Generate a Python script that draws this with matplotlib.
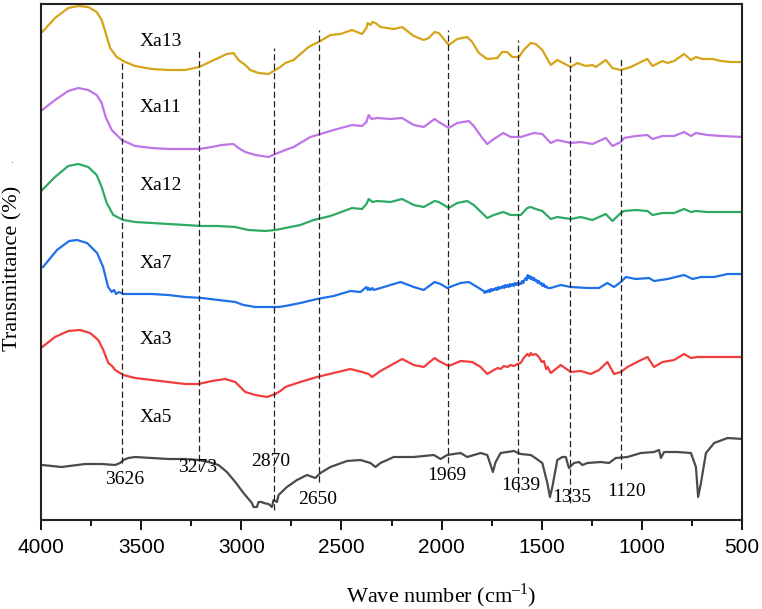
import matplotlib
matplotlib.use("Agg")
import matplotlib.pyplot as plt
from matplotlib.ticker import MultipleLocator

plt.rcParams["mathtext.fontset"] = "custom"
plt.rcParams["mathtext.rm"] = "Liberation Serif"

# spectra: (wave number, transmittance in arbitrary offset units)
xa13 = [(3994, 488), (3930, 502), (3864, 512), (3814, 514), (3764, 513), (3722, 508), (3697, 500),
        (3677, 487), (3655, 472), (3622, 463), (3580, 458), (3530, 454), (3447, 451), (3364, 450),
        (3280, 450), (3210, 453), (3147, 459), (3072, 466), (3039, 467), (3014, 460), (2980, 455),
        (2955, 450), (2914, 447), (2864, 446), (2830, 450), (2805, 453), (2780, 457), (2739, 460),
        (2664, 473), (2605, 479), (2555, 485), (2505, 486), (2447, 490), (2397, 486), (2375, 492),
        (2369, 497), (2355, 495), (2345, 498), (2330, 497), (2305, 493), (2239, 491), (2197, 493),
        (2139, 484), (2089, 480), (2064, 482), (2035, 488), (2014, 487), (1964, 475), (1922, 481),
        (1872, 483), (1847, 478), (1814, 467), (1772, 461), (1722, 462), (1697, 468), (1672, 468),
        (1647, 463), (1614, 463), (1590, 470), (1555, 477), (1530, 476), (1497, 470), (1455, 455),
        (1422, 460), (1355, 453), (1322, 457), (1280, 454), (1247, 455), (1230, 453), (1180, 460),
        (1147, 452), (1105, 450), (1055, 453), (1005, 458), (972, 461), (947, 454), (897, 459),
        (872, 457), (839, 459), (789, 466), (755, 460), (730, 463), (697, 461), (647, 461),
        (605, 459), (555, 458), (497, 458)]

xa11 = [(3994, 410), (3930, 420), (3864, 429), (3814, 432), (3764, 430), (3722, 425), (3697, 417),
        (3677, 403), (3647, 390), (3597, 380), (3530, 374), (3447, 372), (3364, 371), (3280, 371),
        (3210, 371), (3147, 373), (3097, 375), (3039, 376), (3014, 372), (2980, 368), (2930, 365),
        (2864, 363), (2830, 366), (2780, 370), (2739, 373), (2655, 383), (2605, 386), (2539, 390),
        (2447, 395), (2397, 394), (2375, 398), (2364, 405), (2350, 401), (2322, 402), (2255, 401),
        (2197, 402), (2139, 395), (2089, 393), (2035, 401), (2014, 398), (1964, 392), (1922, 397),
        (1864, 399), (1839, 394), (1797, 382), (1772, 376), (1739, 381), (1692, 387), (1655, 383),
        (1605, 383), (1539, 387), (1497, 386), (1455, 377), (1422, 380), (1355, 377), (1305, 378),
        (1247, 376), (1180, 382), (1147, 374), (1105, 378), (1089, 382), (1030, 384), (972, 385),
        (947, 381), (897, 384), (839, 384), (789, 388), (755, 384), (730, 387), (672, 385),
        (605, 384), (497, 383)]

xa12 = [(3994, 330), (3930, 343), (3864, 354), (3814, 356), (3764, 353), (3722, 345), (3697, 333),
        (3672, 317), (3639, 305), (3589, 300), (3530, 298), (3447, 297), (3364, 296), (3280, 295),
        (3197, 294), (3114, 294), (3030, 293), (2964, 290), (2880, 289), (2830, 290), (2780, 292),
        (2705, 295), (2639, 300), (2555, 304), (2447, 312), (2397, 311), (2375, 316), (2364, 321),
        (2345, 318), (2322, 319), (2255, 318), (2197, 321), (2139, 315), (2089, 313), (2035, 319),
        (2014, 318), (1964, 312), (1922, 317), (1872, 319), (1839, 315), (1772, 302), (1739, 305),
        (1692, 308), (1655, 305), (1605, 305), (1572, 312), (1555, 313), (1530, 311), (1497, 309),
        (1455, 301), (1422, 303), (1355, 301), (1305, 303), (1247, 300), (1180, 306), (1147, 299),
        (1105, 307), (1089, 309), (1030, 310), (972, 309), (947, 305), (897, 307), (839, 307),
        (789, 311), (755, 308), (730, 309), (672, 308), (605, 308), (497, 308)]

xa7 = [(3990, 253), (3920, 270), (3860, 279), (3820, 280), (3770, 277), (3720, 267), (3690, 253),
       (3665, 233), (3647, 228), (3635, 230), (3625, 226), (3610, 228), (3589, 226), (3530, 226),
       (3447, 226), (3364, 225), (3280, 223), (3197, 222), (3114, 220), (3030, 218), (2989, 215),
       (2930, 213), (2864, 213), (2814, 213), (2780, 214), (2705, 217), (2622, 221), (2539, 224),
       (2455, 229), (2405, 228), (2375, 233), (2368, 230), (2362, 232), (2355, 230), (2345, 232),
       (2339, 230), (2305, 232), (2205, 238), (2139, 233), (2089, 230), (2035, 238), (2005, 236),
       (1972, 232), (1905, 237), (1864, 238), (1822, 233), (1790, 229), (1784, 227), (1778, 229),
       (1772, 228), (1766, 230), (1760, 228), (1754, 231), (1748, 229), (1742, 231), (1736, 230),
       (1730, 232), (1724, 230), (1718, 233), (1712, 231), (1706, 233), (1700, 232), (1694, 234),
       (1688, 232), (1682, 235), (1676, 233), (1670, 235), (1664, 233), (1658, 236), (1652, 234),
       (1646, 236), (1640, 234), (1634, 237), (1628, 235), (1622, 237), (1616, 235), (1610, 237),
       (1604, 236), (1598, 239), (1592, 237), (1586, 240), (1580, 242), (1575, 240), (1570, 245),
       (1565, 242), (1560, 244), (1555, 241), (1550, 243), (1544, 240), (1538, 242), (1532, 239),
       (1526, 240), (1520, 237), (1514, 239), (1508, 236), (1502, 237), (1496, 234), (1490, 236),
       (1484, 233), (1478, 234), (1470, 232), (1455, 232), (1405, 235), (1355, 233),
       (1272, 232), (1214, 232), (1172, 237), (1139, 233), (1105, 238), (1080, 243), (1030, 241),
       (964, 242), (939, 239), (872, 241), (789, 245), (747, 241), (705, 243), (639, 243),
       (572, 246), (497, 246)]

xa3 = [(3994, 173), (3930, 183), (3864, 189), (3805, 190), (3755, 187), (3714, 180), (3689, 170),
       (3664, 157), (3645, 154), (3630, 150), (3589, 145), (3530, 142), (3447, 140), (3364, 138),
       (3280, 136), (3214, 136), (3147, 139), (3080, 141), (3030, 138), (2980, 128), (2930, 125),
       (2872, 123), (2830, 126), (2805, 129), (2780, 133), (2722, 137), (2622, 143), (2539, 147),
       (2455, 151), (2397, 148), (2364, 146), (2347, 143), (2305, 149), (2197, 161), (2139, 155),
       (2089, 153), (2035, 162), (2014, 159), (1964, 154), (1905, 159), (1847, 158), (1805, 153),
       (1772, 146), (1739, 150), (1720, 152), (1705, 151), (1689, 154), (1670, 153), (1655, 155),
       (1639, 154), (1620, 156), (1605, 157), (1590, 162), (1572, 166), (1562, 164), (1555, 167),
       (1545, 165), (1530, 166), (1514, 163), (1500, 158), (1489, 159), (1478, 151), (1470, 153),
       (1455, 147), (1405, 155), (1355, 148), (1305, 149), (1255, 146), (1214, 150), (1172, 158),
       (1139, 146), (1105, 148), (1072, 153), (1014, 159), (972, 163), (939, 153), (897, 158),
       (839, 160), (789, 166), (755, 162), (722, 163), (672, 163), (605, 163), (497, 163)]

xa5 = [(3994, 55), (3897, 53), (3780, 56), (3697, 56), (3630, 55), (3605, 57), (3589, 60),
       (3564, 62), (3530, 63), (3447, 62), (3364, 61), (3280, 61), (3214, 60), (3164, 58),
       (3114, 55), (3072, 48), (3030, 38), (2989, 27), (2947, 17), (2939, 13), (2922, 13),
       (2914, 18), (2897, 18), (2889, 17), (2864, 16), (2847, 13), (2839, 20), (2822, 18),
       (2814, 25), (2772, 33), (2722, 40), (2672, 45), (2630, 42), (2605, 47), (2555, 53),
       (2472, 59), (2405, 60), (2355, 57), (2330, 53), (2305, 57), (2239, 63), (2139, 63),
       (2039, 65), (2005, 61), (1972, 65), (1905, 67), (1872, 63), (1805, 67), (1772, 65),
       (1755, 55), (1744, 48), (1730, 58), (1705, 67), (1639, 69), (1605, 66), (1555, 65),
       (1539, 63), (1497, 57), (1472, 37), (1459, 23), (1447, 33), (1422, 60), (1397, 63),
       (1380, 63), (1364, 52), (1339, 57), (1314, 58), (1297, 55), (1272, 57), (1205, 58),
       (1164, 57), (1130, 62), (1072, 63), (1005, 67), (939, 68), (914, 70), (905, 62),
       (889, 68), (822, 68), (755, 67), (730, 53), (719, 23), (705, 37), (680, 67),
       (639, 77), (572, 82), (497, 81)]

samples = ["Xa13", "Xa11", "Xa12", "Xa7", "Xa3", "Xa5"]
spectra = [xa13, xa11, xa12, xa7, xa3, xa5]
colors = ["#D6A419", "#BF75E6", "#2DAA64", "#1F6FE8", "#F23D3D", "#4A4A4A"]
label_y = [478, 412, 335, 257, 181, 102]

# marked bands: where the dashed line sits, how far it runs, and its label
band_x = [3594, 3211, 2837, 2610, 1969, 1617, 1360, 1106]
band_lo = [57, 50, 10, 38, 57, 28, 17, 51]
band_hi = [460, 470, 472, 490, 490, 480, 465, 463]
band_text = ["3626", "3273", "2870", "2650", "1969", "1639", "1335", "1120"]
band_text_x = [3580, 3220, 2855, 2620, 1975, 1605, 1350, 1075]
band_text_y = [40, 52, 59, 20, 45, 35, 23, 28]

fig = plt.figure(figsize=(7.62, 6.09), dpi=100)
ax = fig.add_axes([41 / 762, 89 / 609, 701 / 762, 516 / 609])

for pts, c in zip(spectra, colors):
    wn = [p[0] for p in pts]
    t = [p[1] for p in pts]
    ax.plot(wn, t, color=c, lw=1.6, solid_joinstyle="round")

ax.vlines(band_x, band_lo, band_hi, colors="#222222", linestyles=(0, (5, 2.5)), lw=0.9)

serif = "Liberation Serif"
for name, y in zip(samples, label_y):
    ax.text(3510, y, name, fontsize=14, family=serif, ha="left", va="center")
for s, x, y in zip(band_text, band_text_x, band_text_y):
    ax.text(x, y, s, fontsize=14, family=serif, ha="center", va="center")

ax.set_xlim(4000, 500)
ax.set_ylim(0, 516)
ax.set_yticks([])
ax.xaxis.set_major_locator(MultipleLocator(500))
ax.xaxis.set_minor_locator(MultipleLocator(250))
ax.tick_params(axis="x", which="major", length=7, width=1.3, pad=6, labelsize=15)
ax.tick_params(axis="x", which="minor", length=4, width=1.3)
for lab in ax.get_xticklabels():
    lab.set_family("Liberation Sans")
for sp in ax.spines.values():
    sp.set_linewidth(1.5)
    sp.set_color("#222222")

fig.text(13 / 762, 1 - 268 / 609, "Transmittance (%)", rotation=90, fontsize=16,
         family=serif, ha="center", va="center")
fig.text(441 / 762, 1 - 596 / 609, "Wave number (cm$^{\\mathrm{\u20131}}$)", fontsize=16,
         family=serif, ha="center", va="center")
fig.text(13 / 762, 1 - 160 / 609, ".", fontsize=7, color="#555555", ha="center", va="center")

fig.savefig("out.png", dpi=100)
